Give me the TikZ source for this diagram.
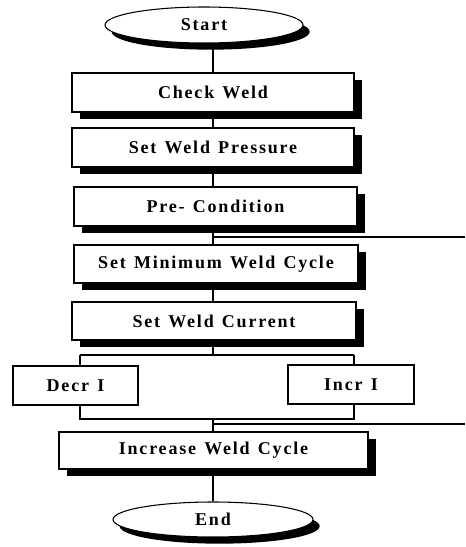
\documentclass[tikz,border=0pt]{standalone}
\usepackage{fontspec}
\setmainfont{Liberation Serif}[LetterSpace=10,WordSpace=1.3]
\usetikzlibrary{shapes.geometric,shadows}
\tikzset{
  base/.style={draw=black, fill=white, line width=0.8pt, inner sep=0pt,
    font=\fontsize{13.5pt}{15pt}\selectfont\bfseries},
  procbox/.style={base, rectangle,
    drop shadow={shadow xshift=6pt, shadow yshift=-5.5pt, fill=black, opacity=1}},
  plainbox/.style={base, rectangle},
  term/.style={base, ellipse,
    drop shadow={shadow xshift=5pt, shadow yshift=-5pt, fill=black, opacity=1}},
  conn/.style={draw=black, line width=0.8pt}
}
\begin{document}
\begin{tikzpicture}[x=0.75pt,y=-0.75pt]
\useasboundingbox (0,0) rectangle (465,547);
\node[term, minimum width=148.5pt, minimum height=27pt] (start) at (204,25) {Start};
\node[procbox, minimum width=211.5pt, minimum height=29.25pt] (check) at (213,92.5) {Check Weld};
\node[procbox, minimum width=211.5pt, minimum height=29.25pt] (press) at (213,147.5) {Set Weld Pressure};
\node[procbox, minimum width=212.25pt, minimum height=29.25pt] (pre) at (215.5,206.5) {Pre- Condition};
\node[procbox, minimum width=213pt, minimum height=28.5pt] (mincyc) at (216,264) {Set Minimum Weld Cycle};
\node[procbox, minimum width=213pt, minimum height=28.5pt] (curr) at (214,321) {Set Weld Current};
\node[plainbox, minimum width=93.75pt, minimum height=29.25pt] (decr) at (75.5,385.5) {Decr I};
\node[plainbox, minimum width=94.5pt, minimum height=29.25pt] (incr) at (351,384.5) {Incr I};
\node[procbox, minimum width=231.75pt, minimum height=27.75pt] (inc) at (213.5,450.5) {Increase Weld Cycle};
\node[term, minimum width=150pt, minimum height=26.25pt] (end) at (213,519.5) {End};

\coordinate (s1) at (213,43);
\coordinate (b1) at (213,355);
\coordinate (bl) at (80,355);
\coordinate (br) at (354,355);
\coordinate (j1) at (213,419);
\coordinate (jl) at (80,419);
\coordinate (jr) at (354,419);
\coordinate (h1) at (213,237);
\coordinate (h1e) at (465,237);
\coordinate (h2) at (213,424);
\coordinate (h2e) at (465,424);

\draw[conn] (s1) -- (check.north -| s1);
\draw[conn] (check.south -| s1) -- (press.north -| s1);
\draw[conn] (press.south -| s1) -- (pre.north -| s1);
\draw[conn] (pre.south -| s1) -- (mincyc.north -| s1);
\draw[conn] (h1) -- (h1e);
\draw[conn] (mincyc.south -| s1) -- (curr.north -| s1);
\draw[conn] (curr.south -| s1) -- (b1);
\draw[conn] (bl) -- (br);
\draw[conn] (bl) -- (decr.north -| bl);
\draw[conn] (br) -- (incr.north -| br);
\draw[conn] (decr.south -| jl) -- (jl) -- (jr) -- (incr.south -| jr);
\draw[conn] (j1) -- (inc.north -| j1);
\draw[conn] (h2) -- (h2e);
\draw[conn] (inc.south -| j1) -- (end.north);
\end{tikzpicture}
\end{document}
